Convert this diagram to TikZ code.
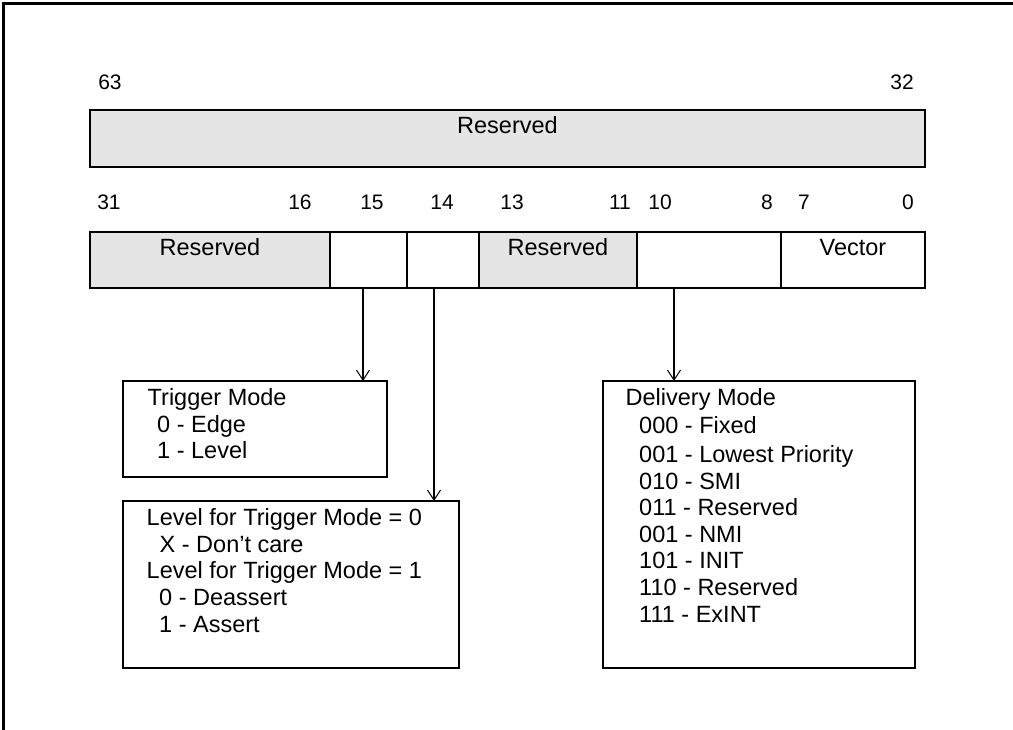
\documentclass[tikz,border=0pt]{standalone}
\usepackage{fontspec}
\setmainfont{Liberation Sans}
\usetikzlibrary{arrows.meta}
\definecolor{regfill}{HTML}{E5E5E5}
\begin{document}
\begin{tikzpicture}[x=1pt,y=-1pt,
  cell/.style={draw,line width=1.3pt,minimum height=56pt,anchor=north west,inner sep=0pt,outer sep=0pt},
  rescell/.style={cell,fill=regfill},
  boxframe/.style={draw,line width=2pt,anchor=north west,inner sep=0pt,outer sep=0pt},
  lbl/.style={font=\fontsize{23.5}{26}\selectfont,inner sep=0pt},
  celltext/.style={lbl,anchor=base},
  linetext/.style={lbl,anchor=base west},
  num/.style={font=\fontsize{21}{24}\selectfont,anchor=base,inner sep=0pt},
  arr/.style={line width=1.3pt,-{Straight Barb[length=10pt,width=13pt,line width=1pt]}}]
\useasboundingbox (0,0) rectangle (1013,730);
% outer frame (cropped)
\draw[line width=2.5pt] (3.3,731) -- (3.3,3.3) -- (1014,3.3);

% upper register 63..32
\node[num] (n63) at (110,90) {63};
\node[num] (n32) at (902,90) {32};
\node[rescell,minimum width=835pt,minimum height=57pt,line width=2pt] (top) at (90,110) {};
\node[celltext] (toptext) at (507.5,134) {Reserved};

% lower register 31..0
\foreach \t/\x in {31/109,16/300,15/372,14/442,13/512,11/620,10/660,8/767,7/804,0/908}
  \node[num] (b\t) at (\x,210) {\t};
\node[rescell,minimum width=240pt] (c1) at (90,232) {};
\node[cell,minimum width=77pt] (c2) at (330,232) {};
\node[cell,minimum width=72pt] (c3) at (407,232) {};
\node[rescell,minimum width=158pt] (c4) at (479,232) {};
\node[cell,minimum width=144pt] (c5) at (637,232) {};
\node[cell,minimum width=144pt] (c6) at (781,232) {};
\draw[line width=2pt] (c1.north west) rectangle (c6.south east);
\node[celltext] (c1t) at (210,256) {Reserved};
\node[celltext] (c4t) at (558,256) {Reserved};
\node[celltext] (c6t) at (853,256) {Vector};

% description boxes
\node[boxframe,minimum width=264pt,minimum height=96pt] (trig) at (123,381) {};
\node[boxframe,minimum width=336pt,minimum height=167pt] (lev) at (123,501) {};
\node[boxframe,minimum width=312pt,minimum height=287pt] (deliv) at (603,381) {};

\node[linetext] (tr1) at (147.5,405) {Trigger Mode};
\node[linetext] (tr2) at (157,432) {0 - Edge};
\node[linetext] (tr3) at (157,458) {1 - Level};

\node[linetext] (lv1) at (146.5,525) {Level for Trigger Mode = 0};
\node[linetext] (lv2) at (159.5,552) {X - Don’t care};
\node[linetext] (lv3) at (146.5,578) {Level for Trigger Mode = 1};
\node[linetext] (lv4) at (159,605) {0 - Deassert};
\node[linetext] (lv5) at (159,632) {1 - Assert};

\node[linetext] (dm0) at (625.5,405) {Delivery Mode};
\foreach \s/\y [count=\i] in {000 - Fixed/433,001 - Lowest Priority/462,010 - SMI/489,011 - Reserved/515,001 - NMI/542,101 - INIT/568,110 - Reserved/595,111 - ExINT/622}
  \node[linetext] (dm\i) at (639,\y) {\s};

% connectors
\draw[arr] ([xshift=-5.5pt]c2.south) -- ([xshift=-5.5pt]c2.south |- trig.north);
\draw[arr] ([xshift=-9pt]c3.south) -- ([xshift=-9pt]c3.south |- lev.north);
\draw[arr] ([xshift=-35pt]c5.south) -- ([xshift=-35pt]c5.south |- deliv.north);
\end{tikzpicture}
\end{document}
